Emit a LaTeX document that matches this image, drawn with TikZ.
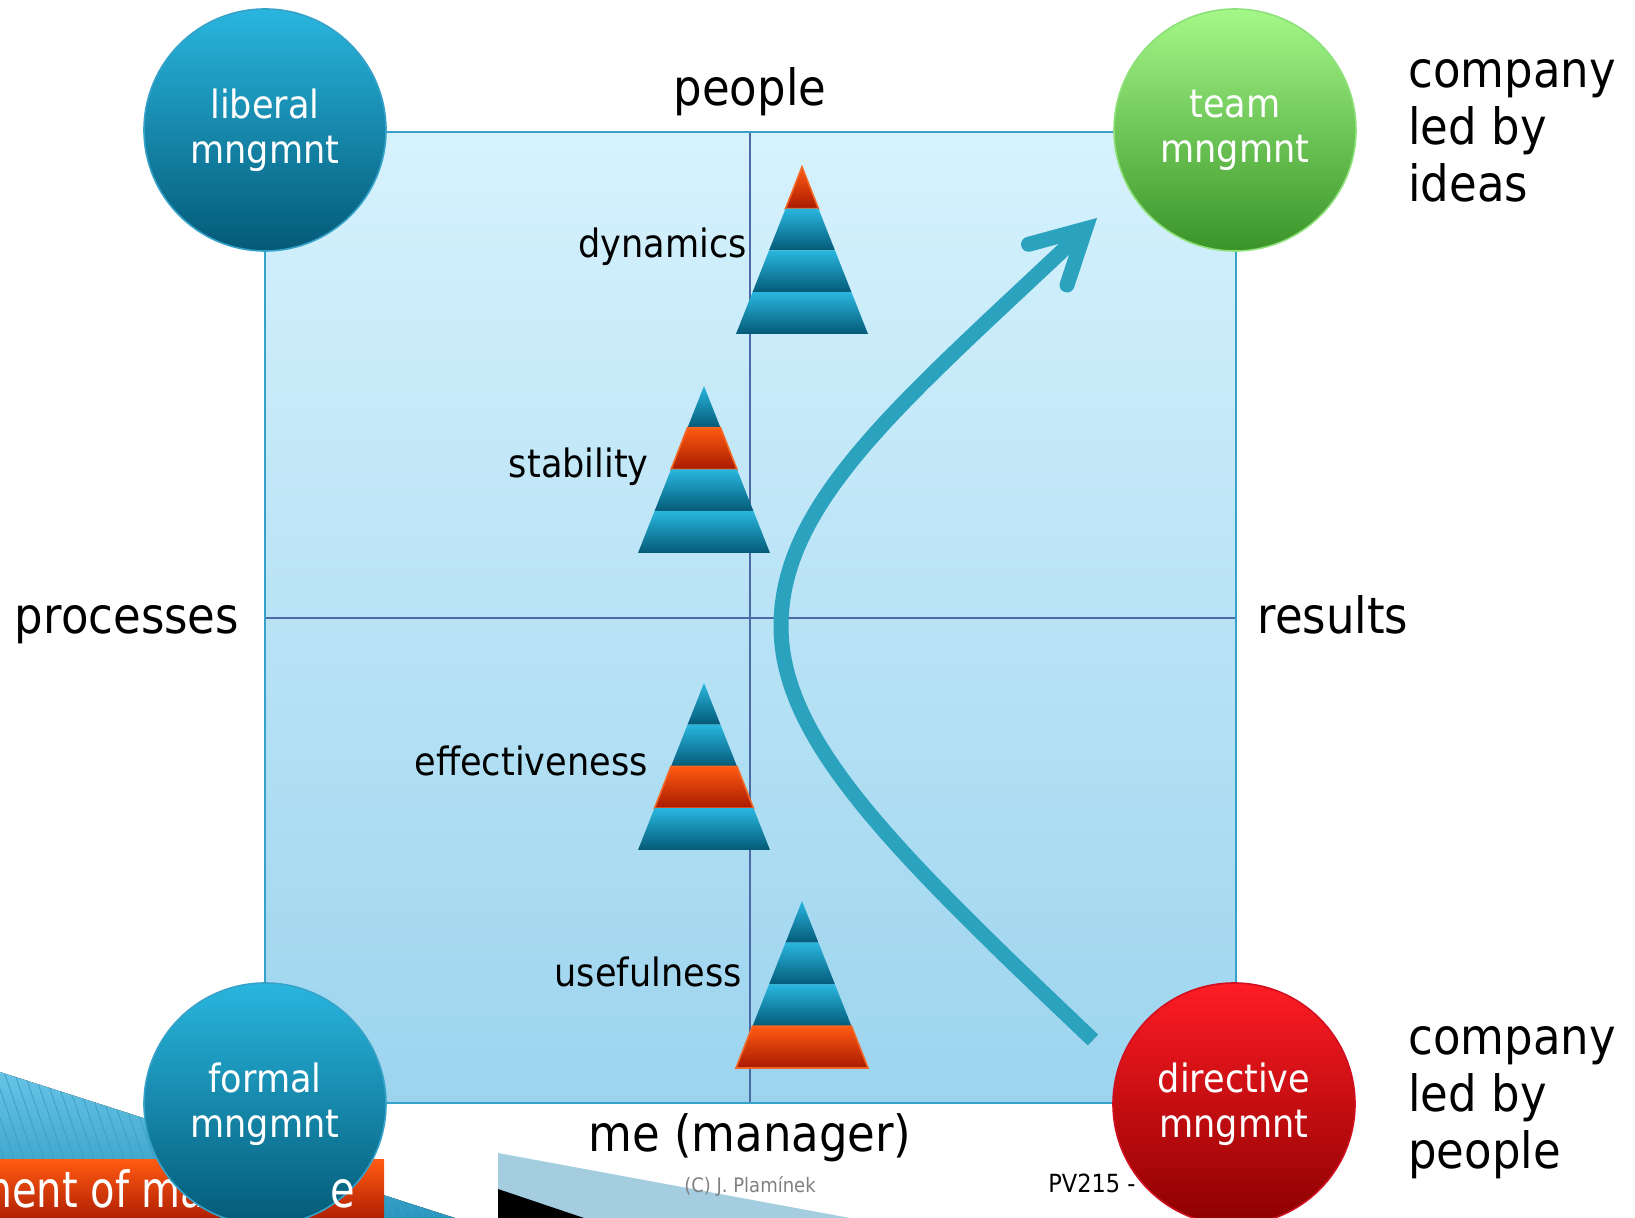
\documentclass[tikz,border=0pt]{standalone}
\usepackage{fontspec}
\setmainfont{DejaVu Sans}[FakeStretch=0.9]
\newfontfamily\footfont{DejaVu Sans}[FakeStretch=0.8]
\usetikzlibrary{arrows.meta}
\definecolor{gridhi}{HTML}{D6F2FD}
\definecolor{gridlo}{HTML}{9CD4EE}
\definecolor{gridrim}{HTML}{36A2C9}
\definecolor{crossblue}{HTML}{4B6AA6}
\definecolor{coldhi}{HTML}{29B6DF}
\definecolor{coldlo}{HTML}{045A77}
\definecolor{hothi}{HTML}{FF5A12}
\definecolor{hotlo}{HTML}{A81A00}
\definecolor{hotrim}{HTML}{F26522}
\definecolor{arrowteal}{HTML}{2BA3BF}
\definecolor{greenhi}{HTML}{A4F888}
\definecolor{greenlo}{HTML}{3A9428}
\definecolor{greenrim}{HTML}{8EE07A}
\definecolor{redhi}{HTML}{FF1C24}
\definecolor{redlo}{HTML}{8C0000}
\definecolor{redrim}{HTML}{D01020}
\definecolor{stripehi}{HTML}{6CC8EA}
\definecolor{stripelo}{HTML}{2A96BE}
\definecolor{stripeline}{HTML}{3E9FC6}
\definecolor{bandblue}{HTML}{A4CDE0}
\tikzset{
    crossline/.style={crossblue, line width=1pt},
    rimline/.style={gridrim, line width=1.2pt},
    coldlayer/.style={top color=coldhi, bottom color=coldlo},
    hotlayer/.style={top color=hothi, bottom color=hotlo, draw=hotrim, line width=0.8pt},
    biglabel/.style={inner sep=0pt, font=\fontsize{25}{28.5}\selectfont},
    steplabel/.style={inner sep=0pt, font=\fontsize{19.5}{22}\selectfont},
    footlabel/.style={inner sep=0pt, text=white, font=\footfont\fontsize{25}{28.5}\selectfont},
    ball/.style={circle, minimum size=121pt, inner sep=0pt, line width=0.8pt,
        text=white, align=center, font=\fontsize{19.5}{22.5}\selectfont},
    blueball/.style={ball, top color=coldhi, bottom color=coldlo, draw=gridrim},
    greenball/.style={ball, top color=greenhi, bottom color=greenlo, draw=greenrim},
    redball/.style={ball, top color=redhi, bottom color=redlo, draw=redrim},
}
\begin{document}
\begin{tikzpicture}[x=0.5pt, y=-0.5pt]
    \useasboundingbox (0,0) rectangle (1635,1218);
    % the four fields
    \fill[top color=gridhi, bottom color=gridlo] (265,132) rectangle (1236,1103);
    \draw[crossline] (750,132) -- (750,1103);
    \draw[crossline] (265,618) -- (1236,618);
    \draw[rimline] (265,132) rectangle (1236,1103);
    % pyramids, one hot layer each
    \foreach \name/\ax/\ay/\hot/\lx/\ly in {dynamics/802/167/0/747/258,
        stability/704/386/1/649/478, effectiveness/704/683/2/648/776,
        usefulness/802/901/3/742/987}{
        \foreach \k in {0,...,3}{
            \ifnum\k=\hot \def\lstyle{hotlayer}\else \def\lstyle{coldlayer}\fi
            \path[\lstyle] ({\ax-16.5*\k},{\ay+41.75*\k})
                -- ({\ax+16.5*\k},{\ay+41.75*\k})
                -- ({\ax+16.5*(\k+1)},{\ay+41.75*(\k+1)})
                -- ({\ax-16.5*(\k+1)},{\ay+41.75*(\k+1)}) -- cycle;
        }
        \node[steplabel, anchor=base east] (\name) at (\lx,\ly) {\name};
    }
    % the path from directive to team
    \coordinate (arrstart) at (1093,1040);
    \coordinate (arrturn) at (781,626);
    \coordinate (arrtip) at (1097,218);
    \draw[arrowteal, line width=7.5pt,
        -{Straight Barb[length=26pt, width=28pt, line cap=round, line join=miter]}]
        (arrstart) .. controls +(-200,-190) and +(0,114) .. (arrturn)
        .. controls +(0,-126) and +(-190,180) .. (arrtip);
    % slide footer
    \begin{scope}
        \clip (0,1072) -- (455,1218) -- (0,1218) -- cycle;
        \fill[top color=stripehi, bottom color=stripelo] (0,1060) rectangle (460,1218);
        \foreach \s in {-120,-110,...,460}
            \draw[stripeline, line width=0.4pt] (\s,1060) -- ++(55,160);
    \end{scope}
    \fill[top color=hothi, bottom color=hotlo!90!hothi] (0,1160) rectangle (384,1218);
    \node[footlabel, anchor=base west] (footl) at (-27,1208) {ment of ma};
    \fill[bandblue] (498,1153) -- (850,1218) -- (498,1218) -- cycle;
    \fill[black] (498,1189) -- (584,1218) -- (498,1218) -- cycle;
    \node[inner sep=0pt, text=gray, font=\fontsize{10}{12}\selectfont] (copy) at (750,1187) {(C) J. Plamínek};
    \node[inner sep=0pt, anchor=base west, font=\fontsize{12.5}{14}\selectfont] (course) at (1048,1193) {PV215 -};
    % axis labels
    \node[biglabel] (people) at (750,92) {people};
    \node[biglabel, anchor=base] (processes) at (127,634) {processes};
    \node[biglabel, anchor=base] (results) at (1333,634) {results};
    \node[biglabel] (me) at (750,1138) {me (manager)};
    \node[biglabel, align=left, anchor=west] (ideas) at (1408,131) {company\\led by\\ideas};
    \node[biglabel, align=left, anchor=west] (byppl) at (1408,1103) {company\\led by\\people};
    % management styles
    \node[blueball] (liberal) at (265,130) {liberal\\mngmnt};
    \node[greenball] (team) at (1235,130) {team\\mngmnt};
    \node[blueball] (formal) at (265,1104) {formal\\mngmnt};
    \node[redball] (directive) at (1234,1104) {directive\\mngmnt};
    \node[footlabel, anchor=base west] (footr) at (330,1208) {e};
\end{tikzpicture}
\end{document}
